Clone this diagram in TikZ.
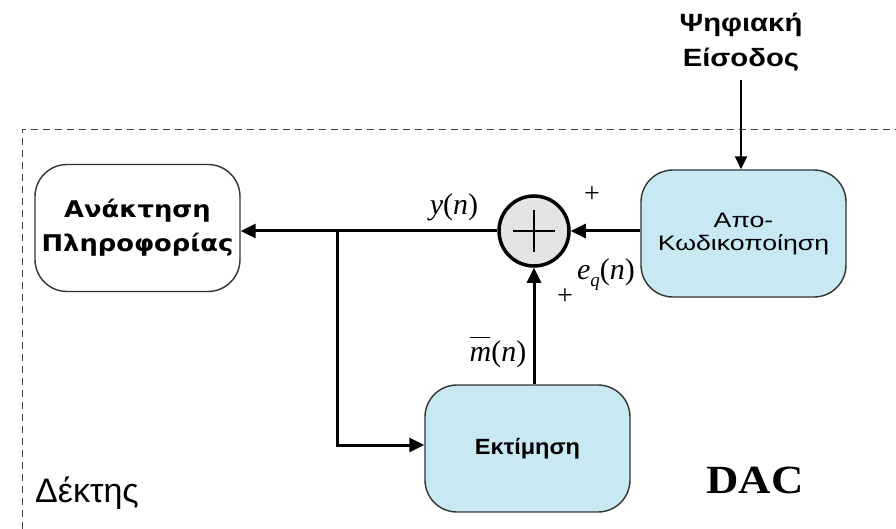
\documentclass[tikz,border=0pt]{standalone}
\usepackage{graphicx}
\usepackage{fontspec}
\setmainfont{Liberation Sans}
\newfontfamily\recfont{DejaVu Sans}
\newfontfamily\serifb{Liberation Serif}
\usetikzlibrary{arrows.meta}
\definecolor{boxblue}{RGB}{200,233,241}
\definecolor{adderfill}{RGB}{228,228,228}
\newcommand{\mv}[1]{{\serifb\itshape #1}}
% horizontally widened text
\newcommand{\xs}[2]{\scalebox{#1}[1]{#2}}
\begin{document}
\begin{tikzpicture}[x=1pt,y=-1pt,
  block/.style={draw=black!80, line width=1.4pt, rounded corners=32pt,
    minimum width=205pt, minimum height=127pt, align=center, inner sep=0pt},
  blue block/.style={block, fill=boxblue},
  conn/.style={line width=3pt, -{Triangle[length=15pt,width=14pt]}},
  lbl/.style={font=\fontsize{30}{32}\selectfont\serifb, inner sep=0pt},
  sign/.style={font=\fontsize{28}{30}\selectfont\serifb, inner sep=0pt}
]
\useasboundingbox (0,0) rectangle (896,529);

% receiver boundary
\draw[line width=1pt, dash pattern=on 7pt off 5pt, black!75]
  (22,529) -- (22,130) -- (896,130);

% blocks
\node[block, fill=white, font=\recfont\bfseries\fontsize{23}{34}\selectfont]
  (rec) at (137.5,228) {\xs{1.12}{Ανάκτηση}\\\xs{1.12}{Πληροφορίας}};
\node[blue block, font=\fontsize{21}{23}\selectfont]
  (dec) at (743.5,233.5) {\xs{1.27}{Απο-}\\\xs{1.27}{Κωδικοποίηση}};
\node[blue block, font=\bfseries\fontsize{22}{24}\selectfont]
  (est) at (527.5,448.5) {\xs{1.07}{Εκτίμηση}};

% adder
\node[circle, draw=black, line width=3.5pt, fill=adderfill, minimum size=70pt,
  inner sep=0pt] (sum) at (534,231) {};
\draw[line width=2.2pt] ([xshift=-21pt]sum.center) -- ([xshift=21pt]sum.center)
  ([yshift=-21pt]sum.center) -- ([yshift=21pt]sum.center);

% input
\node[font=\bfseries\fontsize{25}{35}\selectfont, align=center, inner sep=0pt]
  (inp) at (741,42) {\xs{1.17}{Ψηφιακή}\\\xs{1.17}{Είσοδος}};
\coordinate (inTop) at (741,80);
\draw[line width=2pt, -{Triangle[length=13pt,width=12pt]}] (inTop) -- (dec.north -| inTop);

% connections
\draw[conn] (dec.west |- sum.east) -- (sum.east);
\draw[conn] (sum.west) -- (rec.east |- sum.west);
\coordinate (tap) at (337,231);
\draw[conn] (tap) |- (est.west |- 0,445);
\draw[conn] (sum.south |- est.north) -- (sum.south);

% signal labels
\node[lbl] (yn) at (454,207) {\mv{y}(\mv{n})};
\node[lbl] (eq) at (606,275) {\mv{e}\raisebox{-7pt}{\fontsize{19}{20}\selectfont\mv{q}}(\mv{n})};
\node[lbl] (mn) at (498,352) {\rlap{\rule[23pt]{20pt}{1.6pt}}\mv{m}(\mv{n})};
\node[sign] (p1) at (592,195) {+};
\node[sign] (p2) at (565,297) {+};

% captions
\node[font=\fontsize{34}{38}\selectfont, anchor=west, inner sep=0pt] (rx) at (35,493) {Δέκτης};
\node[font=\serifb\bfseries\fontsize{40}{44}\selectfont, inner sep=0pt] (dac) at (755,480) {\xs{1.12}{DAC}};
\end{tikzpicture}
\end{document}
